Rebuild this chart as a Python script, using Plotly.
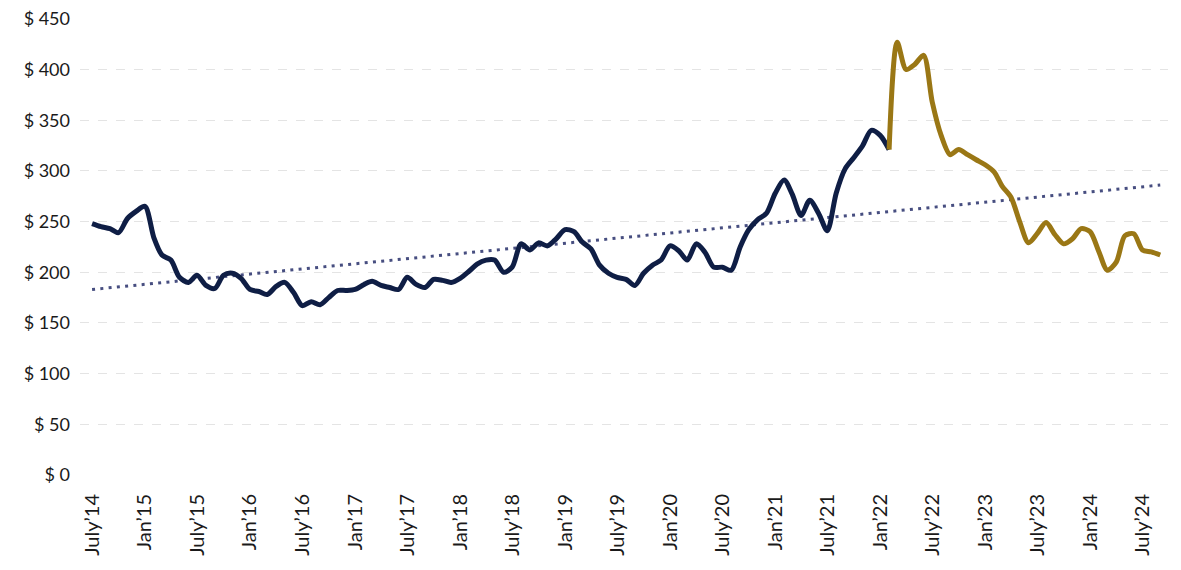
import pandas as pd
import plotly.graph_objects as go

# Monthly values (USD), July 2014 - February 2022 (navy series)
navy_values = [
    248, 245, 243, 239, 253, 260,                       # 2014 Jul-Dec
    265, 234, 217, 212, 195, 190, 197, 187, 184, 197, 199, 194,  # 2015
    183, 181, 178, 186, 190, 180, 167, 171, 168, 175, 182, 182,  # 2016
    183, 188, 191, 187, 185, 183, 195, 188, 185, 193, 192, 190,  # 2017
    194, 201, 208, 212, 212, 200, 205, 228, 222, 229, 226, 233,  # 2018
    242, 240, 230, 223, 207, 199, 195, 193, 187, 199, 207, 212,  # 2019
    226, 221, 212, 228, 220, 205, 205, 202, 225, 242, 252, 258,  # 2020
    278, 291, 277, 256, 271, 258, 241, 278, 302, 313, 325, 340,  # 2021
    335, 321,                                             # 2022 Jan-Feb
]
# Monthly values (USD), February 2022 - September 2024 (gold series)
gold_values = [
    321, 427, 400, 405, 414, 368, 335, 316, 321, 316, 311,      # 2022 Feb-Dec
    306, 299, 285, 274, 250, 229, 238, 249, 237, 228, 233, 243,  # 2023
    240, 220, 202, 210, 236, 238, 222, 220, 217,                 # 2024 Jan-Sep
]
trend_values = [183, 286]

navy_dates = pd.date_range("2014-07-01", periods=len(navy_values), freq="MS")
gold_dates = pd.date_range("2022-02-01", periods=len(gold_values), freq="MS")
trend_dates = [navy_dates[0], gold_dates[-1]]

tick_dates = pd.date_range("2014-07-01", "2024-07-01", freq="6MS")
tick_labels = [("July\u2019" if d.month == 7 else "Jan\u2019") + f"{d.year % 100:02d}" for d in tick_dates]
y_ticks = list(range(0, 451, 50))
y_labels = [f"$ {v}" for v in y_ticks]

FONT = "Lato, Calibri, Carlito, sans-serif"

fig = go.Figure()
fig.add_trace(go.Scatter(
    x=trend_dates, y=trend_values, mode="lines",
    line=dict(color="#474E80", width=3, dash="3px,5.3px"),
    hoverinfo="skip", showlegend=False))
fig.add_trace(go.Scatter(
    x=navy_dates, y=navy_values, mode="lines",
    line=dict(color="#0F1E45", width=5, shape="spline", smoothing=0.8),
    showlegend=False))
fig.add_trace(go.Scatter(
    x=gold_dates, y=gold_values, mode="lines",
    line=dict(color="#9A7715", width=5, shape="spline", smoothing=0.8),
    showlegend=False))

fig.update_layout(
    width=1181, height=570,
    margin=dict(l=72, r=21, t=10, b=103),
    paper_bgcolor="white", plot_bgcolor="white",
    font=dict(family=FONT, size=16, color="#1A1A1A"),
)
fig.update_xaxes(
    type="date", automargin=False,
    range=["2014-05-20", "2024-09-28"],
    tickvals=tick_dates, ticktext=tick_labels,
    tickangle=-90, tickfont=dict(family=FONT, size=20, color="#1A1A1A"),
    showgrid=False, zeroline=False, showline=False, ticks="",
    ticklabelstandoff=14, ticklabeloverflow="allow",
)
fig.update_yaxes(
    range=[0, 450.8], automargin=False,
    tickvals=y_ticks, ticktext=y_labels,
    tickfont=dict(family=FONT, size=18, color="#1A1A1A"),
    showgrid=True, gridcolor="#E4E4E4", gridwidth=1, griddash="dash",
    zeroline=False, showline=False, ticks="", ticklabelstandoff=9,
    ticklabeloverflow="allow",
)

fig.write_html("out.html")
